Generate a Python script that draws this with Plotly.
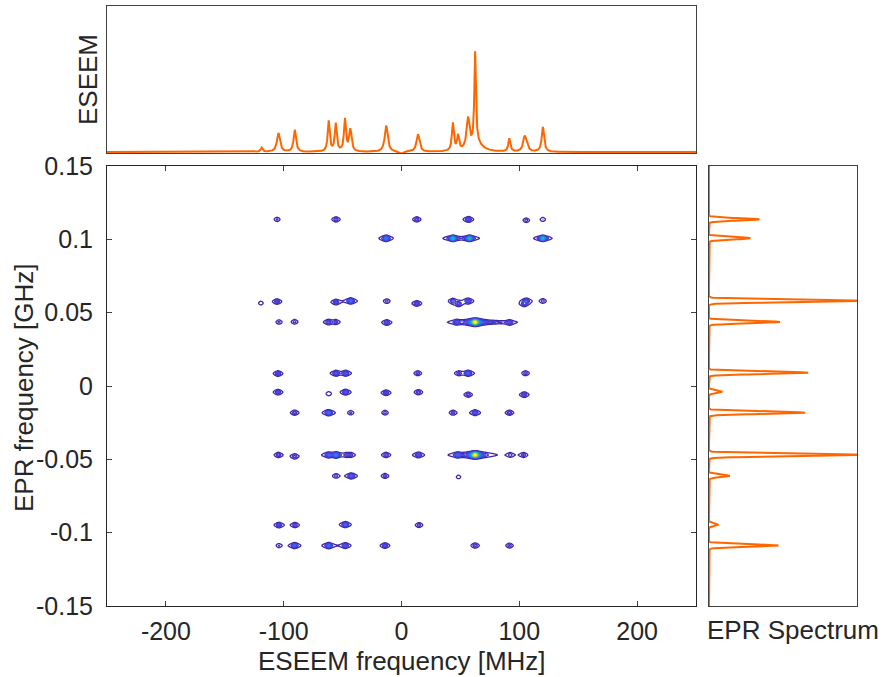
import numpy as np
import plotly.graph_objects as go

# ---------------- data ----------------
# 2D spectrum spots: ESEEM frequency (MHz), EPR frequency (GHz), amplitude
spot_x = [-105.6, -55.6, 13.0, 56.8, 105.9, 120.0,
          -13.1, 43.6, 57.7, 120.0,
          -119.4, -105.6, -55.6, -43.1, -12.5, 13.0, 43.6, 48.4, 56.6, 105.9, 104.2, 120.0,
          -104.0, -90.7, -61.8, -55.9, -12.5, 47.0, 62.5, 76.0, 91.7,
          -104.8, -55.6, -47.4, 13.8, 48.7, 56.6, 105.3,
          -104.8, -61.8, -47.4, -13.1, 14.4, 56.6, 104.2,
          -90.7, -61.8, -43.1, -14.0, 43.8, 62.5, 91.7,
          -104.4, -90.7, -61.8, -55.6, -46.5, -43.1, -13.1, 14.4, 47.8, 62.5, 92.3, 103.6,
          -55.6, -42.6, -14.0, 48.4,
          -104.0, -90.4, -47.7, 14.9,
          -104.0, -90.7, -61.8, -47.7, -14.0, 62.5, 91.7]
spot_y = [0.1136, 0.1136, 0.1136, 0.1136, 0.1130, 0.1136,
          0.1007, 0.1007, 0.1007, 0.1007,
          0.0565, 0.0576, 0.0572, 0.0580, 0.0579, 0.0563, 0.0580, 0.0560, 0.0580, 0.0580, 0.0560, 0.0580,
          0.0436, 0.0438, 0.0436, 0.0436, 0.0433, 0.0435, 0.0435, 0.0435, 0.0433,
          0.0085, 0.0087, 0.0087, 0.0087, 0.0087, 0.0087, 0.0087,
          -0.0042, -0.0053, -0.0042, -0.0046, -0.0042, -0.0059, -0.0059,
          -0.0182, -0.0182, -0.0182, -0.0182, -0.0182, -0.0182, -0.0182,
          -0.0470, -0.0480, -0.0470, -0.0470, -0.0470, -0.0470, -0.0470, -0.0470, -0.0470, -0.0470, -0.0470, -0.0470,
          -0.0613, -0.0613, -0.0613, -0.0620,
          -0.0948, -0.0948, -0.0945, -0.0948,
          -0.1088, -0.1088, -0.1088, -0.1088, -0.1088, -0.1088, -0.1088]
spot_amp = [0.07, 0.12, 0.12, 0.18, 0.08, 0.06,
            0.30, 0.55, 0.55, 0.55,
            0.05, 0.14, 0.15, 0.25, 0.08, 0.15, 0.12, 0.15, 0.18, 0.18, 0.15, 0.08,
            0.07, 0.08, 0.15, 0.10, 0.15, 0.15, 1.00, 0.08, 0.15,
            0.15, 0.18, 0.18, 0.10, 0.10, 0.22, 0.10,
            0.15, 0.06, 0.18, 0.15, 0.12, 0.12, 0.15,
            0.12, 0.25, 0.07, 0.08, 0.10, 0.18, 0.12,
            0.12, 0.12, 0.20, 0.30, 0.08, 0.08, 0.12, 0.18, 0.20, 1.00, 0.08, 0.10,
            0.08, 0.22, 0.10, 0.05,
            0.15, 0.12, 0.22, 0.10,
            0.06, 0.22, 0.25, 0.18, 0.15, 0.12, 0.10]
spot_wx = [1.8] * len(spot_x)
spot_wy = [0.001] * len(spot_x)
for i, (xx, yy) in enumerate(zip(spot_x, spot_y)):
    if spot_amp[i] >= 0.5:
        spot_wx[i] = 1.7
        spot_wy[i] = 0.0009
    if spot_amp[i] >= 0.99:
        spot_wx[i] = 2.8
        spot_wy[i] = 0.0011
    if xx == 76.0:
        spot_wx[i] = 8.0
        spot_wy[i] = 0.0006

# ESEEM projection: peak positions (MHz), heights, half-widths (MHz)
eseem_pos = [-118.7, -104.5, -90.6, -61.8, -55.8, -48.0, -43.5, -13.0, 0.0, 14.0,
             43.6, 48.0, 56.5, 62.5, 64.0, 91.5, 104.5, 106.5, 120.0]
eseem_amp = [0.03, 0.13, 0.15, 0.21, 0.19, 0.22, 0.15, 0.18, -0.015, 0.12,
             0.19, 0.10, 0.21, 0.63, 0.05, 0.09, 0.10, 0.05, 0.17]
eseem_w = [1.0, 1.5, 1.2, 1.0, 1.0, 1.0, 1.2, 1.5, 1.5, 1.5,
           1.0, 1.0, 1.5, 0.8, 6.0, 1.0, 1.5, 1.0, 1.2]

# EPR projection: peak positions (GHz), heights
epr_pos = [0.1136, 0.1007, 0.0580, 0.0436, 0.0090, -0.0040, -0.0182, -0.0470, -0.0613, -0.0946, -0.1088]
epr_amp = [0.34, 0.28, 1.05, 0.48, 0.67, 0.09, 0.65, 1.05, 0.14, 0.06, 0.47]
epr_sigma = 0.0008

x_ticks = [-200, -100, 0, 100, 200]
x_ticktext = ["-200", "-100", "0", "100", "200"]
y_ticks = [-0.15, -0.1, -0.05, 0, 0.05, 0.1, 0.15]
y_ticktext = ["-0.15", "-0.1", "-0.05", "0", "0.05", "0.1", "0.15"]

# ---------------- build curves/maps ----------------
gx = np.arange(-132, 132.01, 0.5)
gy = np.arange(-0.12, 0.1201, 0.0005)
X, Y = np.meshgrid(gx, gy)
Z = np.zeros_like(X)
for xx, yy, a, wx, wy in zip(spot_x, spot_y, spot_amp, spot_wx, spot_wy):
    Z += a / (1 + ((X - xx) / wx) ** 2) * np.exp(-((Y - yy) ** 2) / (2 * wy ** 2))
Z = Z.astype(np.float32)

ex = np.arange(-250, 250.001, 0.1)
ey = np.zeros_like(ex)
for p, a, w in zip(eseem_pos, eseem_amp, eseem_w):
    ey += a / (1 + ((ex - p) / w) ** 2)

ry = np.arange(-0.15, 0.15001, 0.0001)
rx = np.zeros_like(ry)
for p, a in zip(epr_pos, epr_amp):
    rx += a * np.exp(-((ry - p) ** 2) / (2 * epr_sigma ** 2))

parula = [[0.0, "#3E26A8"], [0.1, "#4743E3"], [0.2, "#3568F9"], [0.3, "#1A8AE5"],
          [0.4, "#0EA3D2"], [0.5, "#15B7B5"], [0.6, "#3DC48F"], [0.7, "#85C65A"],
          [0.8, "#CEBC35"], [0.9, "#FCC23A"], [1.0, "#F9FB15"]]

ORANGE = "#FF6600"
TXT = "#262626"
FONT = "Liberation Sans, Arial, sans-serif"
FS = 26
TFS = 25

fig = go.Figure()
fig.add_trace(go.Contour(x=gx, y=gy, z=Z, zmin=0, zmax=1, colorscale=parula,
                         contours=dict(coloring="lines", start=0.025, end=1.0, size=0.035),
                         line=dict(width=1.3, smoothing=0.8), showscale=False,
                         hoverinfo="skip", xaxis="x", yaxis="y"))
fig.add_trace(go.Scatter(x=ex, y=ey, mode="lines", line=dict(color=ORANGE, width=2),
                         xaxis="x2", yaxis="y2", hoverinfo="skip"))
fig.add_trace(go.Scatter(x=rx, y=ry, mode="lines", line=dict(color=ORANGE, width=2),
                         xaxis="x3", yaxis="y3", hoverinfo="skip"))

W, H = 884, 677
main_x = [107 / W, 696 / W]
main_y = [(H - 606) / H, (H - 166) / H]
top_y = [(H - 153) / H, (H - 6) / H]
right_x = [709 / W, 857 / W]

box = dict(showline=True, linecolor="#404040", linewidth=1, mirror=True,
           showgrid=False, zeroline=False, automargin=False)

fig.update_layout(
    template="none",
    width=W, height=H, margin=dict(l=0, r=0, t=0, b=0, pad=0, autoexpand=False),
    paper_bgcolor="white", plot_bgcolor="white", showlegend=False,
    font=dict(family=FONT, size=FS, color=TXT),
    xaxis=dict(domain=main_x, range=[-250, 250], anchor="y", tickvals=x_ticks, ticktext=x_ticktext,
               ticks="inside", ticklen=5, tickcolor="#404040", showline=True, linecolor="#262626",
               mirror="ticks", showgrid=False, zeroline=False, ticklabelstandoff=3, automargin=False,
               tickfont=dict(size=TFS, color=TXT)),
    yaxis=dict(domain=main_y, range=[-0.15, 0.15], anchor="x", tickvals=y_ticks, ticktext=y_ticktext,
               ticks="inside", ticklen=5, tickcolor="#404040", showline=True, linecolor="#262626",
               mirror="ticks", showgrid=False, zeroline=False, ticklabelstandoff=8, automargin=False,
               tickfont=dict(size=TFS, color=TXT)),
    xaxis2=dict(domain=main_x, range=[-250, 250], anchor="y2", showticklabels=False, ticks="", **box),
    yaxis2=dict(domain=top_y, range=[-0.006, 1.0], anchor="x2", showticklabels=False, ticks="", **box),
    xaxis3=dict(domain=right_x, range=[0, 1.0], anchor="y3", showticklabels=False, ticks="",
                layer="below traces", **box),
    yaxis3=dict(domain=main_y, range=[-0.15, 0.15], anchor="x3", showticklabels=False, ticks="",
                layer="below traces", **box),
    annotations=[
        dict(text="ESEEM frequency [MHz]", x=402 / W, y=(H - 661) / H, xref="paper", yref="paper",
             showarrow=False, xanchor="center", yanchor="middle", font=dict(size=FS, color=TXT)),
        dict(text="EPR frequency [GHz]", x=24 / W, y=(H - 388) / H, xref="paper", yref="paper",
             showarrow=False, textangle=-90, xanchor="center", yanchor="middle",
             font=dict(size=FS, color=TXT)),
        dict(text="ESEEM", x=88 / W, y=(H - 80) / H, xref="paper", yref="paper",
             showarrow=False, textangle=-90, xanchor="center", yanchor="middle",
             font=dict(size=FS, color=TXT)),
        dict(text="EPR Spectrum", x=793 / W, y=(H - 630) / H, xref="paper", yref="paper",
             showarrow=False, xanchor="center", yanchor="middle", font=dict(size=FS, color=TXT)),
    ],
)

fig.write_html("out.html")
